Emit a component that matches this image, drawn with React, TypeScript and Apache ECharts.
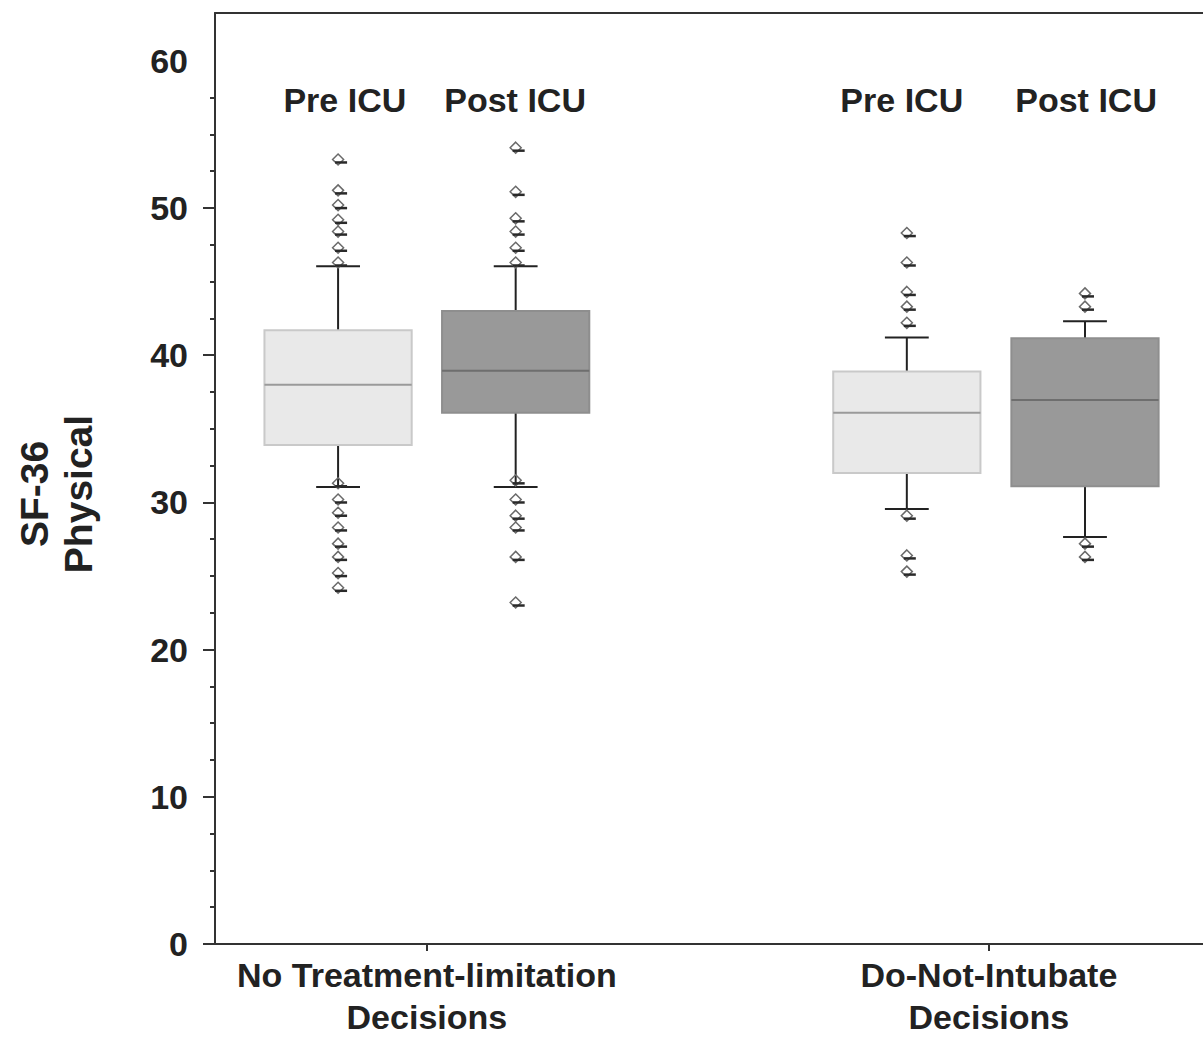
import React, { useEffect, useRef } from "react";
import * as echarts from "echarts";

// ---- data ----
const groupNames = ["No Treatment-limitation\nDecisions", "Do-Not-Intubate\nDecisions"];
const phaseNames = ["Pre ICU", "Post ICU"];
const yTickValues = [0, 10, 20, 30, 40, 50, 60];

// [lower whisker, Q1, median, Q3, upper whisker]
const noLimitPre = [31.05, 33.9, 38.0, 41.7, 46.05];
const noLimitPost = [31.05, 36.1, 38.95, 43.0, 46.05];
const dniPre = [29.55, 32.0, 36.1, 38.9, 41.2];
const dniPost = [27.65, 31.1, 36.95, 41.15, 42.3];

// outliers
const outNoLimitPre = [53.3, 51.2, 50.2, 49.2, 48.4, 47.3, 46.3, 31.3, 30.2, 29.3, 28.3, 27.2, 26.3, 25.2, 24.2];
const outNoLimitPost = [54.1, 51.1, 49.3, 48.4, 47.3, 46.3, 31.5, 30.2, 29.1, 28.3, 26.3, 23.2];
const outDniPre = [48.3, 46.3, 44.3, 43.3, 42.2, 29.1, 26.4, 25.3];
const outDniPost = [44.2, 43.3, 27.2, 26.3];

// ---- layout (not data) ----
const BOX_X = [-0.158, 0.158, 0.854, 1.171];
const LABEL_X = [-0.146, 0.157, 0.845, 1.173];
const LABEL_Y = 57.34;
const BOX_W = 0.262;
const CAP_W = 0.078;
const X_MIN = -0.377;
const X_MAX = 1.381;
const Y_MAX = 63.25;
const FONT = "'Liberation Sans', Arial, Helvetica, sans-serif";
const TEXT = "#222";
const FS = 34;

export default function App() {
  const ref = useRef<HTMLDivElement>(null);

  useEffect(() => {
    if (!ref.current) return;
    const chart = echarts.init(ref.current, null, { renderer: "svg" });

    const boxes = [noLimitPre, noLimitPost, dniPre, dniPost];
    const outs = [outNoLimitPre, outNoLimitPost, outDniPre, outDniPost];
    const boxData = boxes.map((b, i) => [BOX_X[i], ...b, i % 2]);
    const outData: number[][] = [];
    outs.forEach((arr, i) => arr.forEach((v) => outData.push([BOX_X[i], v])));
    const labelData = LABEL_X.map((x, i) => ({ value: [x, LABEL_Y], name: phaseNames[i % 2] }));

    const minorTicks: number[] = [];
    for (let i = 0; i < yTickValues.length - 1; i++) {
      const a = yTickValues[i];
      const step = (yTickValues[i + 1] - a) / 4;
      for (let k = 1; k < 4; k++) minorTicks.push(a + k * step);
    }

    const axisLineStyle = { color: "#333", width: 2 };

    chart.setOption({
      animation: false,
      grid: { left: 215, top: 13, right: 0, bottom: 96, containLabel: false, outerBoundsMode: "none" },
      xAxis: [
        {
          type: "value",
          min: X_MIN,
          max: X_MAX,
          position: "bottom",
          axisLine: { show: true, onZero: false, lineStyle: axisLineStyle },
          axisTick: { show: true, customValues: [0, 1], length: 7, lineStyle: { color: "#333", width: 2 } },
          axisLabel: {
            show: true,
            customValues: [0, 1],
            formatter: (v: number) => groupNames[Math.round(v)],
            fontFamily: FONT,
            fontWeight: "bold",
            fontSize: FS,
            lineHeight: 42,
            color: TEXT,
            margin: 10,
          },
          splitLine: { show: false },
        },
        {
          type: "value",
          min: X_MIN,
          max: X_MAX,
          position: "top",
          axisLine: { show: true, onZero: false, lineStyle: axisLineStyle },
          axisTick: { show: false },
          axisLabel: { show: false },
          splitLine: { show: false },
        },
      ],
      yAxis: [
        {
          type: "value",
          min: 0,
          max: Y_MAX,
          position: "left",
          axisLine: { show: true, onZero: false, lineStyle: axisLineStyle },
          axisTick: { show: true, customValues: yTickValues.slice(0, -1), length: 12, lineStyle: { color: "#333", width: 2 } },
          axisLabel: {
            show: true,
            customValues: yTickValues,
            fontFamily: FONT,
            fontWeight: "bold",
            fontSize: FS,
            color: TEXT,
            margin: 27,
          },
          splitLine: { show: false },
        },
        {
          type: "value",
          min: 0,
          max: Y_MAX,
          position: "left",
          axisLine: { show: false, onZero: false },
          axisTick: { show: true, customValues: minorTicks, length: 5, lineStyle: { color: "#333", width: 2 } },
          axisLabel: { show: false },
          splitLine: { show: false },
        },
      ],
      graphic: [
        {
          type: "text",
          x: 56,
          y: 494,
          rotation: Math.PI / 2,
          style: {
            text: "SF-36\nPhysical",
            font: `bold 39px ${FONT}`,
            fill: TEXT,
            textAlign: "center",
            textVerticalAlign: "middle",
            lineHeight: 44,
          },
        },
      ],
      series: [
        {
          type: "custom",
          xAxisIndex: 0,
          yAxisIndex: 0,
          data: boxData,
          encode: { x: 0, y: [1, 2, 3, 4, 5] },
          renderItem: (params: any, api: any) => {
            const x = api.value(0);
            const lo = api.coord([x, api.value(1)]);
            const q1 = api.coord([x, api.value(2)]);
            const med = api.coord([x, api.value(3)]);
            const q3 = api.coord([x, api.value(4)]);
            const hi = api.coord([x, api.value(5)]);
            const dark = api.value(6) === 1;
            const bw = api.size([BOX_W, 0])[0];
            const cw = api.size([CAP_W, 0])[0];
            const cx = lo[0];
            const wStyle = { stroke: "#222", lineWidth: 2 };
            return {
              type: "group",
              children: [
                { type: "line", shape: { x1: cx, y1: q3[1], x2: cx, y2: hi[1] }, style: wStyle },
                { type: "line", shape: { x1: cx, y1: q1[1], x2: cx, y2: lo[1] }, style: wStyle },
                { type: "line", shape: { x1: cx - cw / 2, y1: hi[1], x2: cx + cw / 2, y2: hi[1] }, style: wStyle },
                { type: "line", shape: { x1: cx - cw / 2, y1: lo[1], x2: cx + cw / 2, y2: lo[1] }, style: wStyle },
                {
                  type: "rect",
                  shape: { x: cx - bw / 2, y: q3[1], width: bw, height: q1[1] - q3[1] },
                  style: {
                    fill: dark ? "#999999" : "#e9e9e9",
                    stroke: dark ? "#8e8e8e" : "#c9c9c9",
                    lineWidth: 2,
                  },
                },
                {
                  type: "line",
                  shape: { x1: cx - bw / 2, y1: med[1], x2: cx + bw / 2, y2: med[1] },
                  style: { stroke: dark ? "#6e6e6e" : "#9a9a9a", lineWidth: 2 },
                },
              ],
            };
          },
        },
        {
          type: "scatter",
          xAxisIndex: 0,
          yAxisIndex: 0,
          data: outData,
          symbol: "diamond",
          symbolSize: [11, 11],
          itemStyle: { color: "rgba(255,255,255,0)", borderColor: "#6a6a6a", borderWidth: 1.5, opacity: 1 },
          z: 3,
        },
        {
          type: "scatter",
          xAxisIndex: 0,
          yAxisIndex: 0,
          data: outData,
          symbol: "rect",
          symbolSize: [12, 2.5],
          symbolOffset: [3, 3],
          itemStyle: { color: "#2a2a2a", opacity: 1 },
          z: 4,
        },
        {
          type: "scatter",
          xAxisIndex: 0,
          yAxisIndex: 0,
          data: labelData,
          symbolSize: 1,
          itemStyle: { color: "rgba(255,255,255,0)", opacity: 1 },
          label: {
            show: true,
            position: "inside",
            formatter: "{b}",
            fontFamily: FONT,
            fontWeight: "bold",
            fontSize: FS,
            color: TEXT,
            opacity: 1,
            textBorderWidth: 0,
            textBorderColor: "transparent",
          },
        },
      ],
    });

    return () => chart.dispose();
  }, []);

  return (
    <div
      ref={ref}
      style={{ position: "absolute", left: 0, top: 0, width: 1203, height: 1040, background: "#fff" }}
    />
  );
}
